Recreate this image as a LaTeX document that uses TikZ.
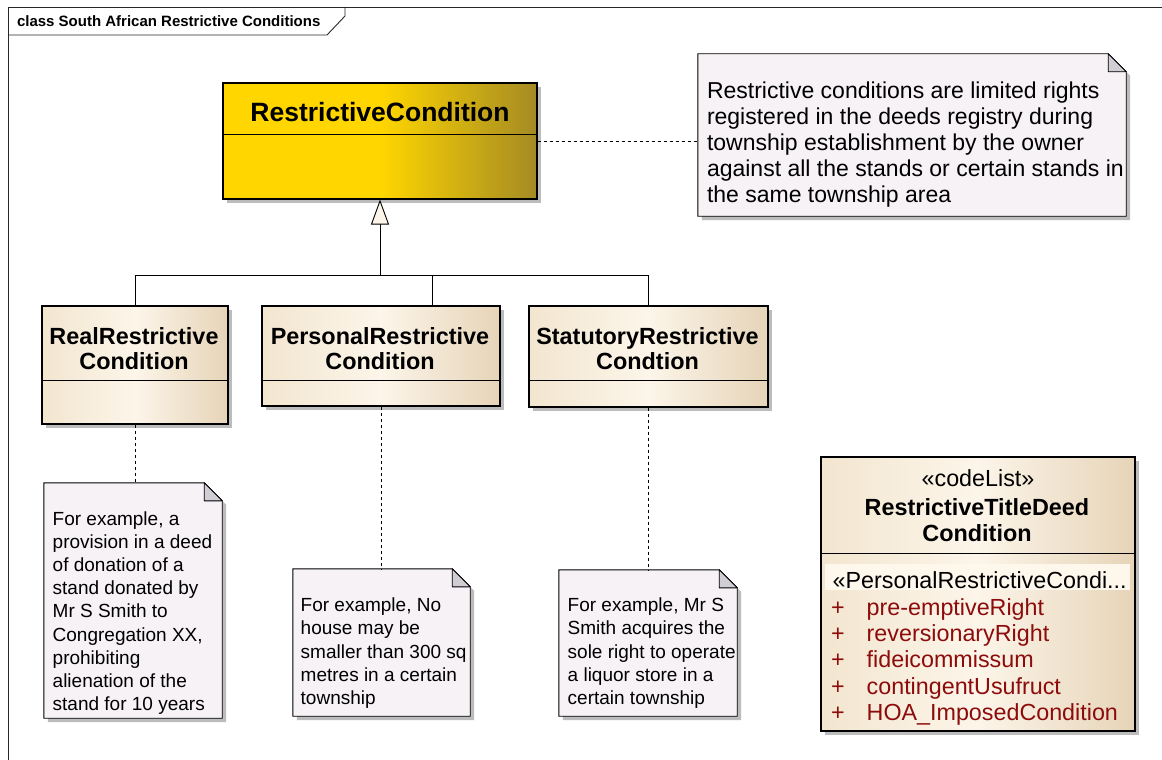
\documentclass[tikz,border=0pt]{standalone}
\usepackage{fontspec}
\setmainfont{Liberation Sans}
\usetikzlibrary{arrows.meta,shadows,calc}

\definecolor{frameline}{RGB}{40,40,40}
\definecolor{gold}{RGB}{255,214,0}
\definecolor{olive}{RGB}{164,138,36}
\definecolor{tanL}{RGB}{243,230,208}
\definecolor{tanM}{RGB}{252,245,233}
\definecolor{tanR}{RGB}{230,212,184}
\definecolor{notefill}{RGB}{246,242,246}
\definecolor{foldfill}{RGB}{208,206,212}
\definecolor{shadowc}{RGB}{188,188,188}
\definecolor{rowfill}{RGB}{253,247,236}
\definecolor{attrred}{RGB}{140,12,12}

\newcommand\txtblock[2]{\begin{tabular}[t]{@{}#1@{}}#2\end{tabular}}

% folded-corner note drawn around an (empty) named node
\newcommand\notebody[1]{%
  \fill[shadowc] ($(#1.north west)+(4,4)$) -- ($(#1.north east)+(-14,4)$)
     -- ($(#1.north east)+(4,22)$) -- ($(#1.south east)+(4,4)$)
     -- ($(#1.south west)+(4,4)$) -- cycle;
  \filldraw[fill=notefill, draw=black, line width=0.9pt]
     (#1.north west) -- ($(#1.north east)+(-18,0)$) -- ($(#1.north east)+(0,18)$)
     -- (#1.south east) -- (#1.south west) -- cycle;
  \filldraw[fill=foldfill, draw=black, line width=0.9pt, line join=round]
     ($(#1.north east)+(-18,0)$) -- ($(#1.north east)+(0,18)$)
     -- ($(#1.north east)+(-18,18)$) -- cycle;
}

\tikzset{
  classbox/.style={rectangle, draw=black, line width=1.1pt, inner sep=0pt,
    left color=tanL, right color=tanR, middle color=tanM,
    drop shadow={shadow xshift=4pt, shadow yshift=-4pt, fill=shadowc, opacity=1}},
  goldbox/.style={classbox, left color=gold, right color=olive, middle color=gold},
  notebox/.style={rectangle, draw=none, inner sep=0pt},
  divider/.style={line width=1pt, draw=black},
  txt/.style={inner sep=0pt, outer sep=0pt},
  ctitle/.style={txt, anchor=base, font=\fontsize{23.4}{25}\selectfont\bfseries},
  notetxt/.style={txt, anchor=base west, font=\fontsize{19}{23.2}\selectfont},
  link/.style={draw=black, line width=0.9pt},
  notelink/.style={draw=black, line width=0.9pt, dash pattern=on 3pt off 3pt},
  genarrow/.style={link, -{Triangle[length=25pt, width=18pt, fill=tanM]}},
}

\begin{document}
\begin{tikzpicture}[x=1pt, y=-1pt]
\useasboundingbox (0,0) rectangle (1162,760);
\fill[white] (0,0) rectangle (1162,760);

% diagram frame with its name tab
\draw[frameline, line width=0.9pt] (8,760) -- (8,7) -- (1162,7);
\draw[frameline, line width=0.9pt] (8,35) -- (327,35) -- (345,16) -- (345,7);
\node[txt, anchor=base west, font=\fontsize{15}{18}\selectfont\bfseries] (frameName)
  at (17,27) {class South African Restrictive Conditions};

% ---- classes ----
\node[goldbox, minimum width=314pt, minimum height=116pt] (rc) at (380,141) {};
\draw[divider] (rc.west |- 0,134) -- (rc.east |- 0,134);
\node[txt, anchor=base, font=\fontsize{26.5}{30}\selectfont\bfseries] (rcName)
  at (380,121.7) {RestrictiveCondition};

\node[classbox, minimum width=186pt, minimum height=118pt] (real) at (135,365) {};
\draw[divider] (real.west |- 0,380) -- (real.east |- 0,380);
\node[ctitle] (realName) at (134,344) {\txtblock{c}{RealRestrictive\\Condition}};

\node[classbox, minimum width=238pt, minimum height=100pt] (pers) at (381,356) {};
\draw[divider] (pers.west |- 0,380) -- (pers.east |- 0,380);
\node[ctitle] (persName) at (380,344) {\txtblock{c}{PersonalRestrictive\\Condition}};

\node[classbox, minimum width=239pt, minimum height=101pt] (stat) at (648.5,356.5) {};
\draw[divider] (stat.west |- 0,380) -- (stat.east |- 0,380);
\node[ctitle] (statName) at (647.5,344) {\txtblock{c}{StatutoryRestrictive\\Condtion}};

% code list
\node[classbox, minimum width=314pt, minimum height=274pt] (code) at (978,594) {};
\draw[divider] (code.west |- 0,553) -- (code.east |- 0,553);
\node[txt, anchor=base, font=\fontsize{23.3}{26.6}\selectfont] (codeStereo)
  at (978,486.7) {«codeList»};
\node[txt, anchor=base, font=\fontsize{23.4}{26.7}\selectfont\bfseries] (codeName)
  at (977,515) {\txtblock{c}{RestrictiveTitleDeed\\Condition}};
\fill[rowfill] (825,564) rectangle (1130,590);
\node[txt, anchor=base west, font=\fontsize{23.3}{26.6}\selectfont] (codeGroup)
  at (832.7,588) {«PersonalRestrictiveCondi...};
\node[txt, anchor=base west, font=\fontsize{23.3}{26.4}\selectfont, text=attrred] (codePlus)
  at (831,615) {\txtblock{l}{+\\+\\+\\+\\+}};
\node[txt, anchor=base west, font=\fontsize{23.3}{26.4}\selectfont, text=attrred] (codeAttrs)
  at (866.7,615) {\txtblock{l}{pre-emptiveRight\\reversionaryRight\\fideicommissum\\contingentUsufruct\\HOA\_ImposedCondition}};

% ---- generalisation ----
\coordinate (junc) at (380,275);
\coordinate (jp) at (432,275);
\draw[link] (real.north) |- (junc);
\draw[link] (stat.north) |- (junc);
\draw[link] (jp) -- (jp |- pers.north);
\draw[genarrow] (junc) -- (rc.south);

% ---- notes ----
\node[notebox, minimum width=428pt, minimum height=162pt] (nTop) at (912,135) {};
\notebody{nTop}
\node[txt, anchor=base west, font=\fontsize{23}{25.8}\selectfont] (nTopText) at (707,99)
  {\txtblock{l}{Restrictive conditions are limited rights\\registered in the deeds registry during\\township establishment by the owner\\against all the stands or certain stands in\\the same township area}};

\node[notebox, minimum width=178pt, minimum height=235pt] (nReal) at (133,600.5) {};
\notebody{nReal}
\node[notetxt] (nRealText) at (52.7,525)
  {\txtblock{l}{For example, a\\provision in a deed\\of donation of a\\stand donated by\\Mr S Smith to\\Congregation XX,\\prohibiting\\alienation of the\\stand for 10 years}};

\node[notebox, minimum width=177pt, minimum height=147pt] (nPers) at (381.5,642.5) {};
\notebody{nPers}
\node[notetxt] (nPersText) at (300.7,611.7)
  {\txtblock{l}{For example, No\\house may be\\smaller than 300 sq\\metres in a certain\\township}};

\node[notebox, minimum width=178pt, minimum height=146pt] (nStat) at (648,643) {};
\notebody{nStat}
\node[notetxt] (nStatText) at (567.7,611.7)
  {\txtblock{l}{For example, Mr S\\Smith acquires the\\sole right to operate\\a liquor store in a\\certain township}};

% note attachments
\draw[notelink] (rc.east) -- (rc.east -| nTop.west);
\draw[notelink] (real.south) -- (real.south |- nReal.north);
\draw[notelink] (pers.south) -- (pers.south |- nPers.north);
\draw[notelink] (stat.south) -- (stat.south |- nStat.north);
\end{tikzpicture}
\end{document}
